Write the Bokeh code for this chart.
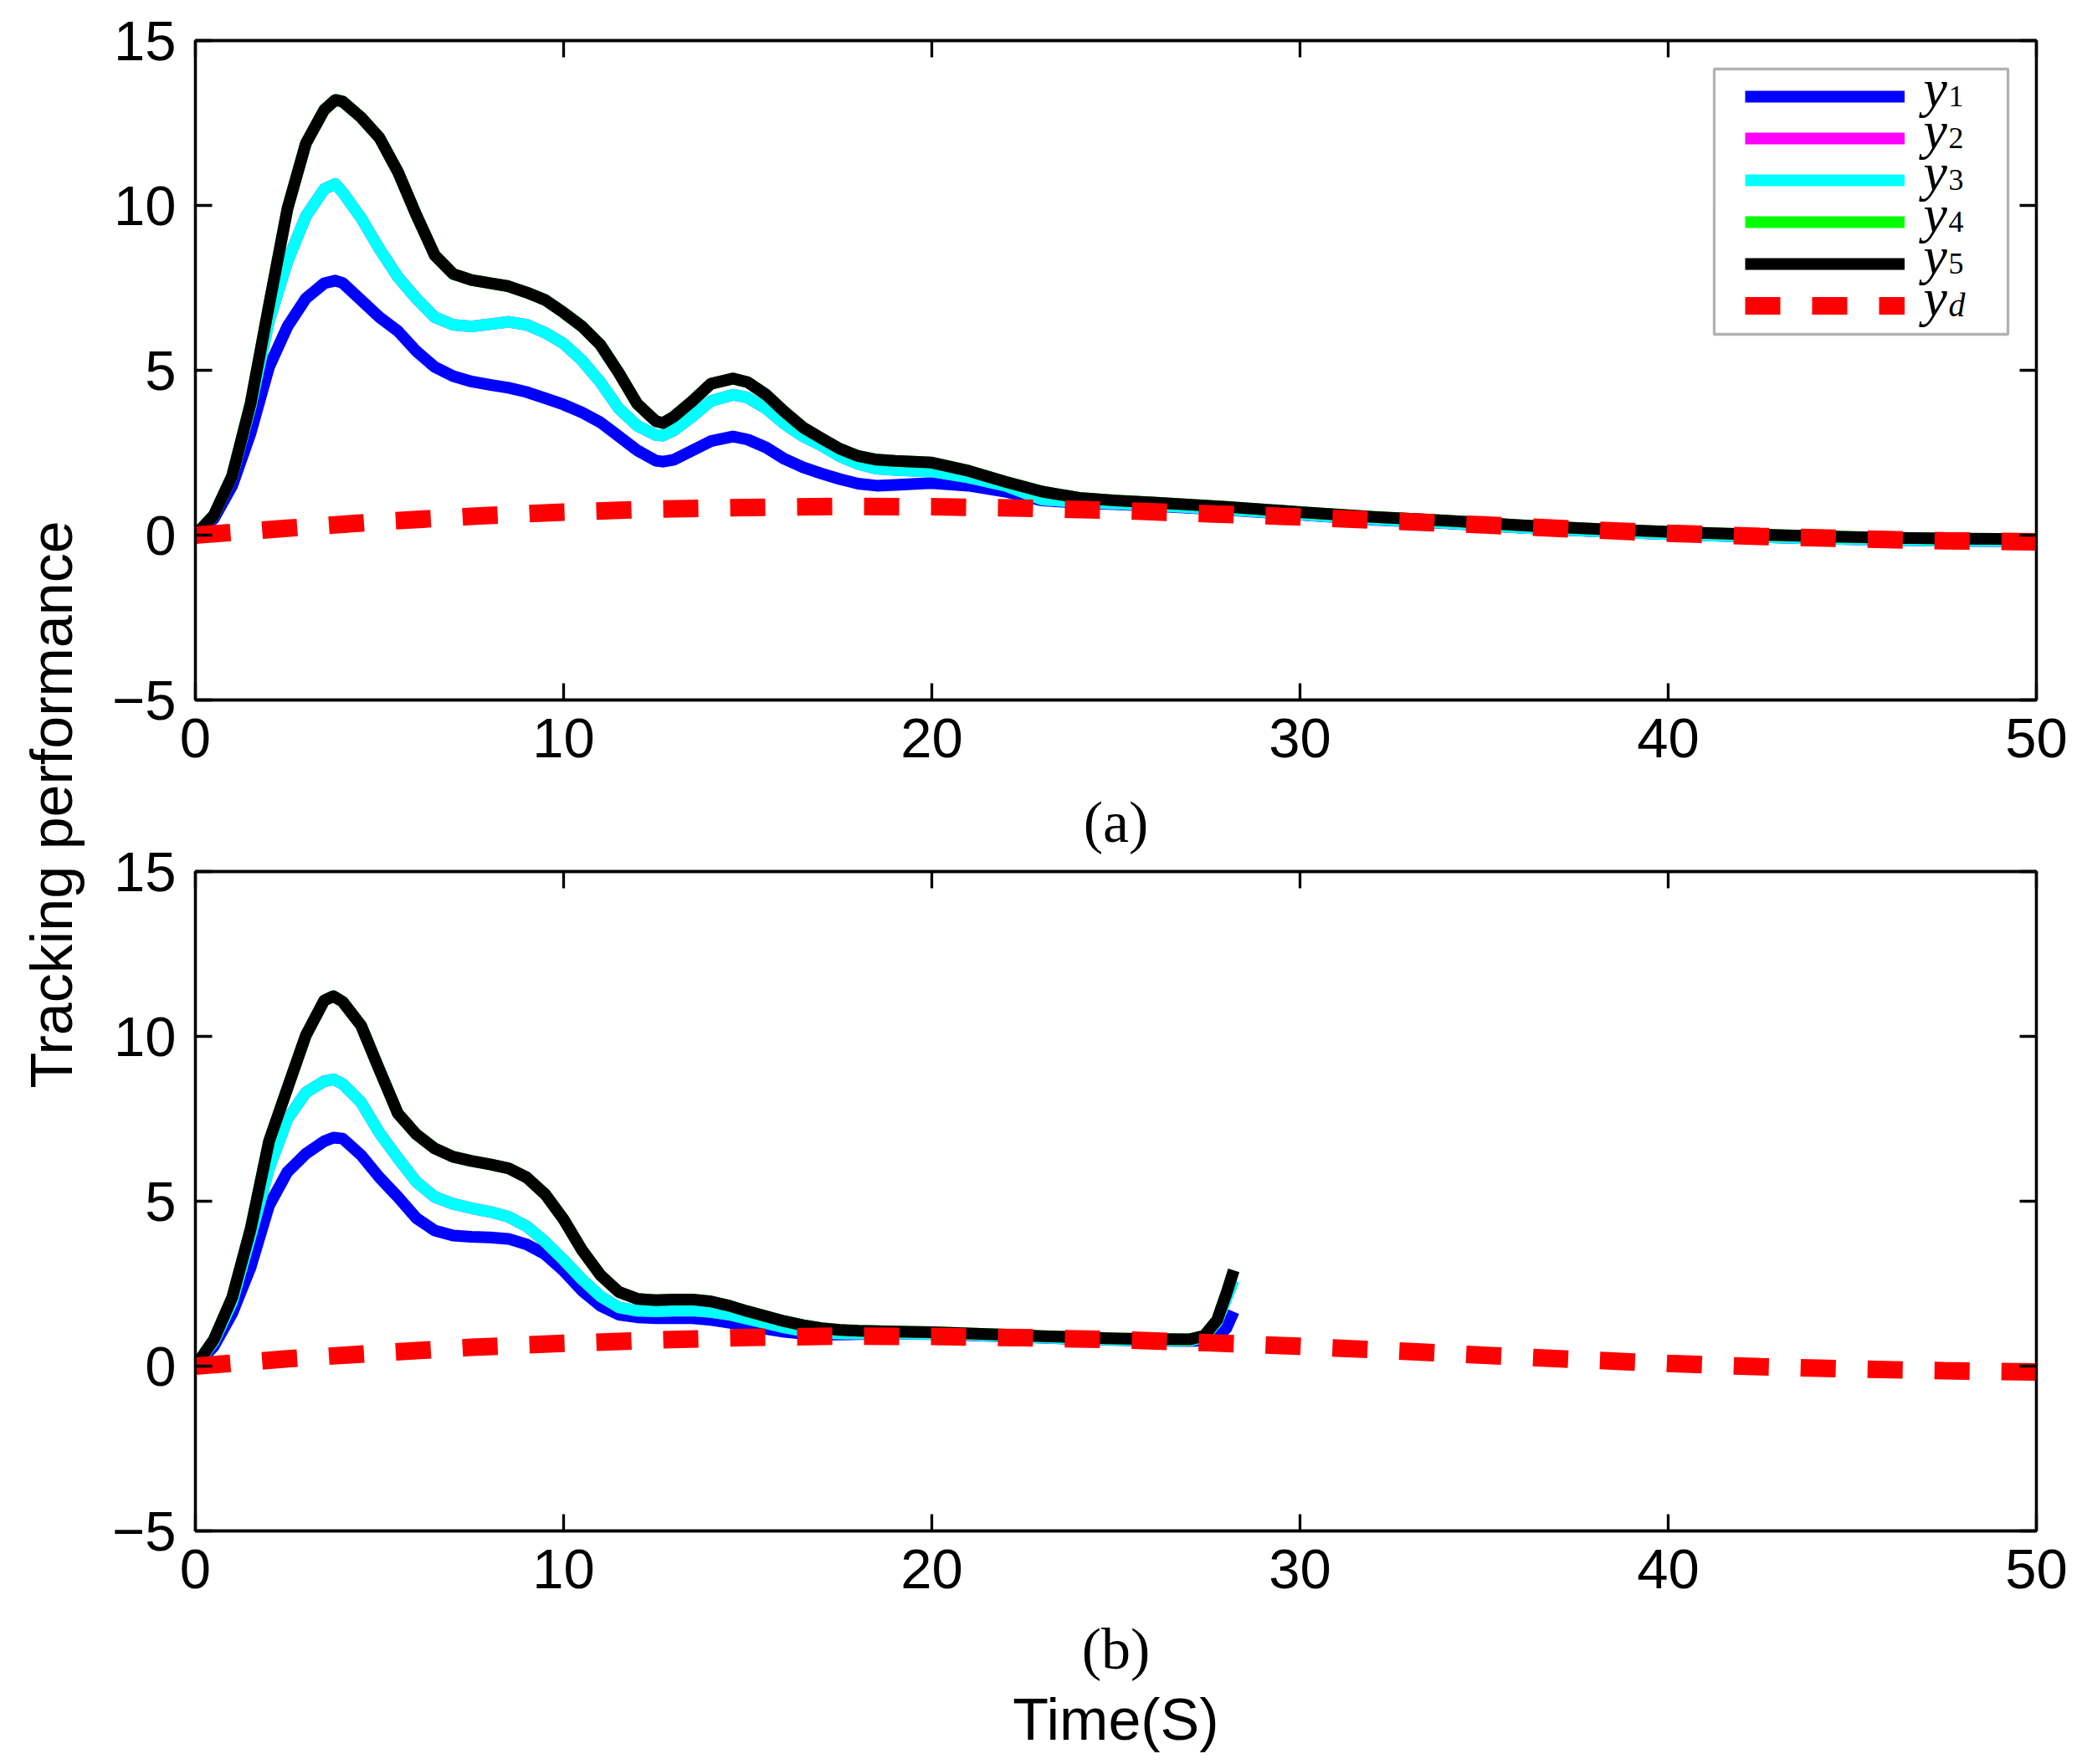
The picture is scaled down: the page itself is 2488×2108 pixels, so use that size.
from math import pi
from bokeh.plotting import figure
from bokeh.models import (Range1d, FixedTicker, LinearAxis, Legend, LegendItem, Label,
                          BoxAnnotation)
from bokeh.layouts import row, column
from bokeh.embed import file_html
from bokeh.resources import INLINE

# ---------------- data ----------------
x_ticks = [0, 10, 20, 30, 40, 50]
y_ticks = [-5, 0, 5, 10, 15]
y_tick_labels = {-5: "\u22125", 0: "0", 5: "5", 10: "10", 15: "15"}

# panel (a)
t_a = [0, 0.5, 1, 1.5, 2, 2.5, 3, 3.5, 3.8, 4, 4.5, 5, 5.5, 6, 6.5, 7, 7.5, 8, 8.5, 9,
       9.5, 10, 10.5, 11, 11.5, 12, 12.5, 12.7, 13, 13.5, 14, 14.6, 15, 15.5, 16, 16.5,
       17, 17.5, 18, 18.5, 19, 20, 21, 22, 23, 24, 25, 26, 28, 30, 32, 34, 36, 38, 40,
       42, 44, 46, 48, 50]
y5_a = [0, 0.6, 1.8, 4.0, 6.98, 9.9, 11.88, 12.9, 13.2, 13.15, 12.67, 12.05, 11.02, 9.71,
        8.49, 7.92, 7.74, 7.64, 7.55, 7.36, 7.13, 6.75, 6.33, 5.77, 4.92, 3.98, 3.46, 3.4,
        3.6, 4.07, 4.59, 4.75, 4.64, 4.26, 3.74, 3.27, 2.94, 2.62, 2.4, 2.29, 2.25, 2.2,
        1.95, 1.62, 1.32, 1.13, 1.05, 0.99, 0.86, 0.70, 0.55, 0.44, 0.30, 0.19, 0.10,
        0.03, -0.03, -0.08, -0.11, -0.12]
y4_a = list(y5_a)
y3_a = [0, 0.6, 1.8, 3.9, 6.5, 8.3, 9.67, 10.5, 10.65, 10.4, 9.62, 8.68, 7.83, 7.18,
        6.61, 6.38, 6.33, 6.4, 6.47, 6.38, 6.14, 5.81, 5.3, 4.64, 3.84, 3.32, 3.04, 3.02,
        3.18, 3.6, 4.07, 4.26, 4.17, 3.84, 3.37, 3.0, 2.72, 2.39, 2.16, 2.02, 1.98, 1.93,
        1.75, 1.5, 1.08, 1.0, 0.96, 0.91, 0.78, 0.63, 0.48, 0.37, 0.23, 0.12, 0.03,
        -0.04, -0.1, -0.14, -0.17, -0.19]
y2_a = list(y3_a)
y1_a = [0, 0.5, 1.5, 3.1, 5.1, 6.33, 7.18, 7.64, 7.72, 7.65, 7.13, 6.61, 6.19, 5.58,
        5.1, 4.82, 4.66, 4.56, 4.47, 4.34, 4.15, 3.96, 3.72, 3.42, 3.0, 2.57, 2.26, 2.23,
        2.29, 2.57, 2.85, 2.99, 2.9, 2.66, 2.31, 2.06, 1.87, 1.7, 1.56, 1.5, 1.52, 1.58,
        1.5, 1.32, 1.05, 0.98, 0.94, 0.89, 0.77, 0.62, 0.47, 0.36, 0.23, 0.12, 0.03,
        -0.04, -0.1, -0.14, -0.17, -0.19]

t_d = [0, 2.5, 5, 7.5, 10, 12.5, 15, 17.5, 20, 22.5, 25, 27.5, 30, 32.5, 35, 37.5, 40,
       42.5, 45, 47.5, 50]
yd_a = [0, 0.21, 0.41, 0.57, 0.7, 0.79, 0.84, 0.87, 0.86, 0.82, 0.75, 0.65, 0.55, 0.43,
        0.31, 0.18, 0.06, -0.04, -0.11, -0.17, -0.2]

# panel (b)
t_b = [0, 0.5, 1, 1.5, 2, 2.5, 3, 3.5, 3.75, 4, 4.5, 5, 5.5, 6, 6.5, 7, 7.5, 8, 8.5, 9,
       9.5, 10, 10.5, 11, 11.5, 12, 12.5, 13, 13.5, 14, 14.5, 15, 15.5, 16, 16.5, 17,
       17.5, 18, 19, 20, 21, 22, 23, 24, 25, 26, 27, 27.4, 27.75, 28.0, 28.2]
y5_b = [0, 0.8, 2.08, 4.16, 6.82, 8.43, 10.03, 11.09, 11.22, 11.05, 10.33, 8.98, 7.66,
        7.03, 6.6, 6.35, 6.22, 6.12, 6.0, 5.72, 5.21, 4.45, 3.52, 2.76, 2.25, 2.04, 2.0,
        2.02, 2.02, 1.96, 1.83, 1.66, 1.51, 1.36, 1.24, 1.15, 1.1, 1.07, 1.05, 1.03,
        0.99, 0.95, 0.91, 0.87, 0.84, 0.82, 0.81, 0.92, 1.4, 2.2, 2.9]
y4_b = list(y5_b)
y3_b = [0, 0.75, 1.95, 3.95, 6.0, 7.49, 8.3, 8.64, 8.7, 8.56, 8.0, 7.07, 6.31, 5.59,
        5.13, 4.92, 4.79, 4.68, 4.53, 4.24, 3.77, 3.22, 2.63, 2.12, 1.78, 1.68, 1.66,
        1.68, 1.69, 1.64, 1.56, 1.43, 1.3, 1.17, 1.07, 1.01, 0.99, 0.99, 0.99, 0.98,
        0.95, 0.91, 0.87, 0.83, 0.8, 0.78, 0.77, 0.88, 1.35, 2.05, 2.6]
y2_b = list(y3_b)
y1_b = [0, 0.6, 1.6, 3.0, 4.87, 5.89, 6.44, 6.82, 6.93, 6.9, 6.4, 5.72, 5.13, 4.49,
        4.11, 3.96, 3.92, 3.9, 3.86, 3.69, 3.39, 2.89, 2.29, 1.83, 1.56, 1.48, 1.45,
        1.45, 1.45, 1.4, 1.32, 1.22, 1.13, 1.04, 0.98, 0.95, 0.96, 0.97, 0.98, 0.97,
        0.94, 0.9, 0.86, 0.82, 0.79, 0.77, 0.76, 0.78, 0.88, 1.15, 1.65]
yd_b = [0, 0.22, 0.4, 0.57, 0.69, 0.79, 0.87, 0.91, 0.9, 0.86, 0.8, 0.71, 0.6, 0.47,
        0.33, 0.2, 0.08, -0.02, -0.09, -0.14, -0.18]

series_colors = ["#0000ff", "#ff00ff", "#00ffff", "#00ff00", "#000000"]
legend_subs = ["1", "2", "3", "4", "5", "d"]

# ---------------- styling ----------------
FW, FH = 2200, 788
LW = 3.3
SANS = "Liberation Sans"
SERIF = "Liberation Serif"
LAB_W = 130


def style_axis(ax, ticks, overrides=None, labels=True, standoff=22):
    ax.ticker = FixedTicker(ticks=ticks)
    ax.axis_line_width = LW
    ax.axis_line_color = "black"
    ax.major_tick_in = 20
    ax.major_tick_out = 0
    ax.major_tick_line_width = LW
    ax.major_tick_line_color = "black"
    ax.minor_tick_line_color = None
    ax.major_label_text_font = SANS
    ax.major_label_text_font_size = "67px"
    ax.major_label_text_color = "black"
    ax.major_label_standoff = standoff if labels else 0
    if not labels:
        ax.major_label_overrides = {t: "" for t in ticks}
    elif overrides:
        ax.major_label_overrides = overrides


def serif_label(ax, text, standoff):
    ax.axis_label = text
    ax.axis_label_text_font = SERIF
    ax.axis_label_text_font_style = "normal"
    ax.axis_label_text_font_size = "70px"
    ax.axis_label_text_color = "black"
    ax.axis_label_standoff = standoff


def make_panel(t, ys, td, yd, top, bottom):
    p = figure(frame_width=FW, frame_height=FH, x_range=Range1d(0, 50),
               y_range=Range1d(-5, 15), output_backend="svg", toolbar_location=None,
               min_border_left=233 - LAB_W, min_border_right=40, min_border_top=top,
               min_border_bottom=bottom)
    p.grid.visible = False
    p.outline_line_color = "black"
    p.outline_line_width = LW
    p.background_fill_color = "white"
    p.border_fill_color = "white"
    bottom_ax = p.xaxis[0]
    style_axis(bottom_ax, x_ticks, standoff=22)
    style_axis(p.yaxis[0], y_ticks, overrides=y_tick_labels, standoff=23)
    top_ax = LinearAxis()
    style_axis(top_ax, x_ticks, labels=False)
    p.add_layout(top_ax, "above")
    right_ax = LinearAxis()
    style_axis(right_ax, y_ticks, labels=False)
    p.add_layout(right_ax, "right")
    rs = []
    for y, c in zip(ys, series_colors):
        rs.append(p.line(t, y, line_color=c, line_width=14, line_join="round",
                         line_cap="butt"))
    rs.append(p.line(td, yd, line_color="#ff0000", line_width=21, line_dash="42 38",
                     line_cap="butt"))
    return p, rs, bottom_ax, top_ax


pa, rs_a, _, _ = make_panel(t_a, [y1_a, y2_a, y3_a, y4_a, y5_a], t_d, yd_a, 48, 95)
pb, rs_b, pb_bottom, pb_top = make_panel(t_b, [y1_b, y2_b, y3_b, y4_b, y5_b], t_d, yd_b,
                                         110, 262)

# caption of panel (a) sits between the panels (carried by the upper axis of (b))
serif_label(pb_top, "(a)", 21)
# caption of panel (b) and the shared x label below panel (b)
serif_label(pb_bottom, "(b)", 31)
time_ax = LinearAxis(ticker=FixedTicker(ticks=[]), axis_label="Time(S)",
                     axis_label_text_font=SANS, axis_label_text_font_size="70px",
                     axis_label_text_font_style="normal", axis_label_text_color="black",
                     axis_label_standoff=4, axis_line_color=None,
                     major_tick_line_color=None, minor_tick_line_color=None,
                     major_tick_in=0, major_tick_out=0, major_label_standoff=0)
pb.add_layout(time_ax, "below")

# legend of panel (a): border box, line samples, labels
pa.add_layout(BoxAnnotation(left=1815, right=2166, top=754, bottom=437,
                            left_units="screen", right_units="screen",
                            top_units="screen", bottom_units="screen",
                            fill_color="white", fill_alpha=1.0,
                            line_color="black", line_width=LW))
legend = Legend(items=[LegendItem(label=" ", renderers=[r]) for r in rs_a],
                location=(1815, 409), padding=37, spacing=0, glyph_width=191,
                glyph_height=50, label_standoff=0, label_text_font_size="20px",
                border_line_alpha=0, background_fill_alpha=0, margin=0)
pa.add_layout(legend)
for i, sub in enumerate(legend_subs):
    pa.add_layout(Label(x=2065, y=731 - 50 * i, x_units="screen", y_units="screen",
                        text="y", text_font=SERIF, text_font_style="italic",
                        text_font_size="64px", text_baseline="alphabetic",
                        text_color="black"))
    pa.add_layout(Label(x=2095, y=722 - 50 * i, x_units="screen", y_units="screen",
                        text=sub, text_font=SERIF,
                        text_font_style="italic" if sub == "d" else "normal",
                        text_font_size="40px" if sub == "d" else "36px",
                        text_baseline="alphabetic", text_color="black"))

# shared y label
lab = figure(width=LAB_W, height=2100, x_range=Range1d(0, 1), y_range=Range1d(0, 1),
             output_backend="svg", toolbar_location=None, min_border=0,
             x_axis_location=None, y_axis_location=None)
lab.grid.visible = False
lab.outline_line_color = None
lab.add_layout(Label(x=61, y=1139, x_units="screen", y_units="screen",
                     text="Tracking performance", angle=pi / 2, text_align="center",
                     text_baseline="alphabetic", text_font=SANS, text_font_size="70px",
                     text_color="black"))

layout = row(lab, column(pa, pb))
open("out.html", "w").write(file_html(layout, INLINE))
